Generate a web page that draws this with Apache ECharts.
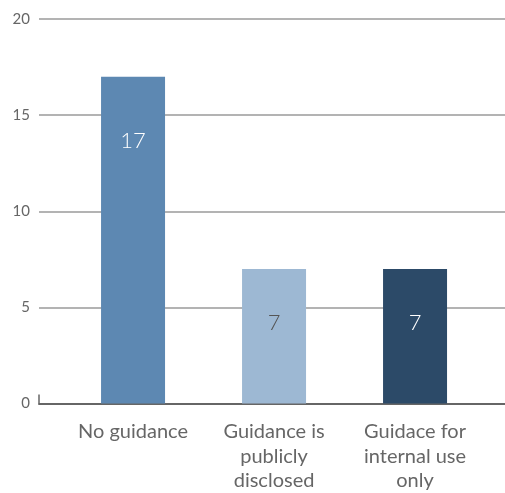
<!DOCTYPE html>
<html><head><meta charset="utf-8">
<script src="https://cdn.jsdelivr.net/npm/echarts@6/dist/echarts.min.js"></script>
<style>html,body{margin:0;padding:0;background:#fff}#c{width:505px;height:493px}</style>
</head><body><div id="c"></div>
<script>
var categories = ['No guidance', 'Guidance is\npublicly\ndisclosed', 'Guidace for\ninternal use\nonly'];
var values = [17, 7, 7];
var yTicks = [0, 5, 10, 15, 20];

var barColors = ['#5d88b2', '#9db8d3', '#2c4a68'];
var labelColors = ['#ffffff', '#555555', '#ffffff'];
var labelDistances = [53, 43, 43];

var chart = echarts.init(document.getElementById('c'), null, {renderer: 'canvas'});
var idx = categories.map(function (c, i) { return i; });
chart.setOption({
  animation: false,
  grid: {left: 39, right: 0, top: 19, bottom: 86, containLabel: false},
  xAxis: {
    type: 'value', min: -0.667, max: 2.638,
    splitLine: {show: false},
    axisLine: {show: true, lineStyle: {color: '#666', width: 2}},
    axisTick: {show: true, customValues: [-0.667], inside: true, length: 9, lineStyle: {color: '#666', width: 1.5}},
    axisLabel: {
      customValues: idx, margin: 16, color: '#666', fontFamily: 'Lato', fontSize: 20, lineHeight: 24.5,
      formatter: function (v) { return categories[Math.round(v)]; }
    }
  },
  yAxis: {
    type: 'value', min: yTicks[0], max: yTicks[yTicks.length - 1], interval: 5,
    axisLine: {show: false}, axisTick: {show: false},
    splitLine: {lineStyle: {color: '#9a9a9a', width: 1.5}},
    axisLabel: {margin: 9, color: '#666', fontFamily: 'Lato', fontSize: 15}
  },
  series: [{
    type: 'bar', barWidth: 64,
    data: values.map(function (v, i) {
      return {
        value: [i, v],
        itemStyle: {color: barColors[i]},
        label: {show: true, position: 'insideTop', distance: labelDistances[i], color: labelColors[i],
          fontFamily: 'Lato', fontWeight: 300, fontSize: 22, formatter: String(v)}
      };
    })
  }]
});
</script></body></html>
